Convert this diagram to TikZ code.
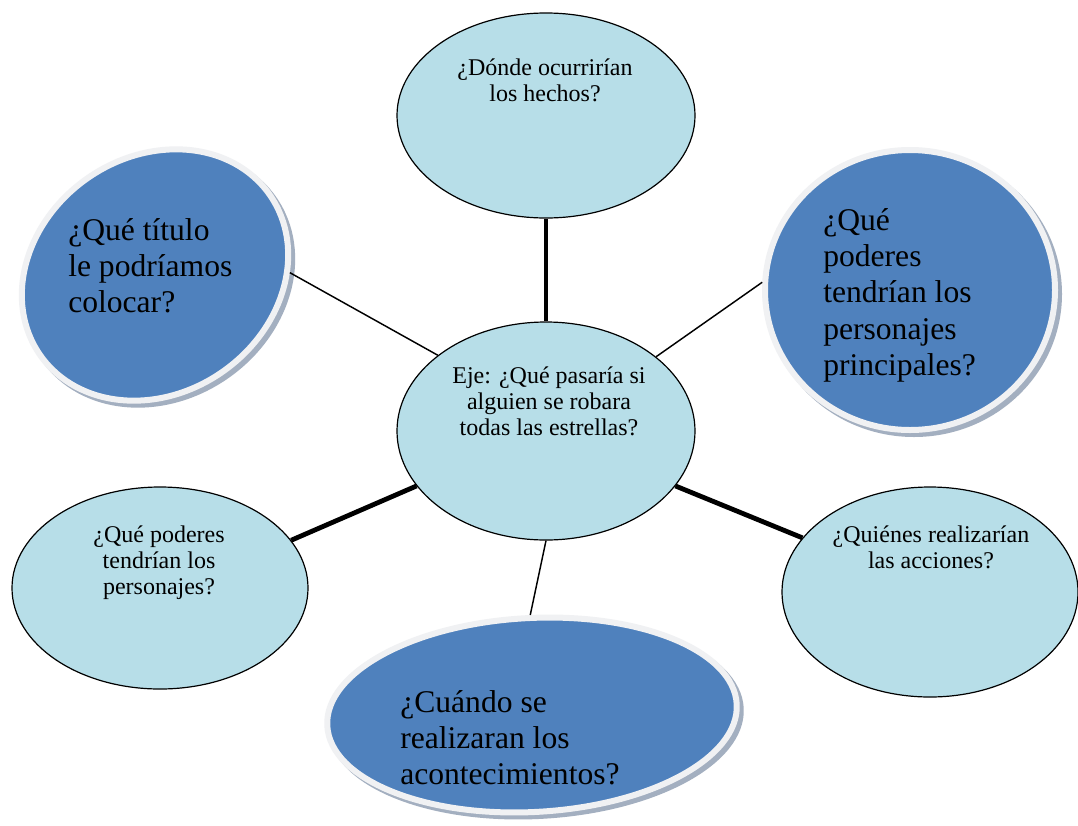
\documentclass[tikz,border=0pt]{standalone}
\usepackage{fontspec}
\setmainfont{Liberation Serif}
\usetikzlibrary{shapes.geometric,shadows}
\definecolor{lightaqua}{HTML}{B7DEE8}
\definecolor{darkblue}{HTML}{4F81BD}
\definecolor{ringc}{HTML}{F0F1F3}
\definecolor{shadc}{HTML}{A3AFC0}
\tikzset{
  lightell/.style={ellipse, draw=black, line width=0.9pt, fill=lightaqua, inner sep=0pt},
  darkell/.style={ellipse, draw=ringc, line width=4.5pt, fill=darkblue, inner sep=0pt,
    drop shadow={shadow xshift=3pt, shadow yshift=-3pt, fill=shadc, draw=shadc, line width=4.5pt, opacity=1}},
  ltxt/.style={font=\fontsize{18}{19.5}\selectfont, inner sep=0pt, anchor=base},
  dtxt/.style={font=\fontsize{23.7}{27.3}\selectfont, inner sep=0pt, anchor=base west},
  conthin/.style={line width=1.1pt},
  conthick/.style={line width=3.6pt},
}
\begin{document}
\begin{tikzpicture}[x=0.75pt,y=-0.75pt]
\useasboundingbox (0,0) rectangle (1078,825);
\fill[white] (0,0) rectangle (1078,825);

% ellipses
\node[lightell, minimum width=223.5pt, minimum height=153.75pt] (top) at (546,115.5) {};
\node[lightell, minimum width=223.5pt, minimum height=163.5pt] (ctr) at (546,431) {};
\node[lightell, minimum width=222pt, minimum height=151.5pt] (lp) at (160,588) {};
\node[lightell, minimum width=222pt, minimum height=157.5pt] (qr) at (930,592) {};
\node[darkell, minimum width=210pt, minimum height=177pt, rotate=35] (title) at (155,275) {};
\node[darkell, minimum width=217.5pt, minimum height=210pt] (pr) at (910,290) {};
\node[darkell, minimum width=307.5pt, minimum height=145.5pt, rotate=3] (bot) at (532,715) {};

% connectors
\draw[conthick] (top.south) -- (ctr.north);
\draw[conthin] (ctr.145.8) -- (title.-34);
\draw[conthin] (ctr.34.2) -- (pr.177.7);
\draw[conthick] (ctr.203.6) -- (lp.20.7);
\draw[conthick] (ctr.-23.5) -- (qr.157.3);
\draw[conthin] (ctr.south) -- (bot.88);

% texts
\node[ltxt] (ttop) at (545,75) {\begin{tabular}[t]{@{}c@{}}¿Dónde ocurrirían\\los hechos?\end{tabular}};
\node[ltxt] (tctr) at (549,383) {\begin{tabular}[t]{@{}c@{}}Eje: ¿Qué pasaría si\\alguien se robara\\todas las estrellas?\end{tabular}};
\node[ltxt] (tlp) at (159,542) {\begin{tabular}[t]{@{}c@{}}¿Qué poderes\\tendrían los\\personajes?\end{tabular}};
\node[ltxt] (tqr) at (931,542) {\begin{tabular}[t]{@{}c@{}}¿Quiénes realizarían\\las acciones?\end{tabular}};
\node[dtxt] (ttitle) at (68,240) {\begin{tabular}[t]{@{}l@{}}¿Qué título\\le podríamos\\colocar?\end{tabular}};
\node[dtxt] (tpr) at (823,230) {\begin{tabular}[t]{@{}l@{}}¿Qué\\poderes\\tendrían los\\personajes\\principales?\end{tabular}};
\node[dtxt] (tbot) at (400,712) {\begin{tabular}[t]{@{}l@{}}¿Cuándo se\\realizaran los\\acontecimientos?\end{tabular}};
\end{tikzpicture}
\end{document}
